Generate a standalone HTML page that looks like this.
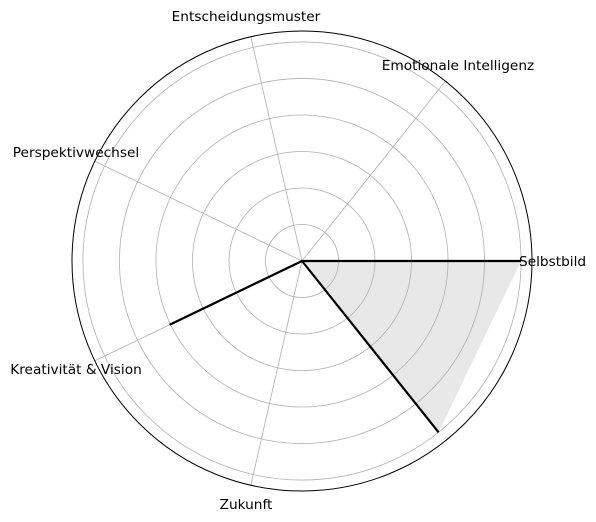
<!DOCTYPE html>
<html><head><meta charset="utf-8"><style>
body{margin:0;background:#fff}
svg{display:block;font-family:"DejaVu Sans","Liberation Sans",sans-serif}
</style></head><body>
<svg id="chart" width="596" height="522" viewBox="0 0 596 522"></svg>
<script>
const categories = ["Selbstbild","Emotionale Intelligenz","Entscheidungsmuster","Perspektivwechsel","Kreativität & Vision","Zukunft"];
const values = [6,0,0,0,4,0];
const ringTicks = [1,2,3,4,5,6];
const rMaxVal = 6.3;

const cx=302, cy=261, R=230, N=7;
const svg=document.getElementById('chart');
const NS='http://www.w3.org/2000/svg';
function rs(v){return v/rMaxVal*R;}
function ang(i){return i*2*Math.PI/N;}
function pt(i,v){const a=ang(i);return [cx+rs(v)*Math.cos(a), cy-rs(v)*Math.sin(a)];}
function mk(tag,attrs){const e=document.createElementNS(NS,tag);for(const k in attrs)e.setAttribute(k,attrs[k]);svg.appendChild(e);return e;}

const closed=values.concat([values[0]]);
const pts=closed.map((v,i)=>pt(i,v));
const poly=mk('polygon',{points:pts.map(p=>p.join(',')).join(' '),fill:'#e8e8e8',stroke:'none'});



ringTicks.forEach(t=>{
  const c=mk('circle',{cx:cx,cy:cy,r:rs(t),fill:'none',stroke:'#b0b0b0','stroke-width':0.8});
  
  
});
categories.forEach((c,i)=>{
  const p=pt(i,rMaxVal);
  const l=mk('line',{x1:cx,y1:cy,x2:p[0],y2:p[1],stroke:'#b0b0b0','stroke-width':0.8});
  
  
});
const line=mk('polyline',{points:pts.map(p=>p.join(',')).join(' '),fill:'none',stroke:'#000','stroke-width':2.2,'stroke-linejoin':'round'});


const outer=mk('circle',{cx:cx,cy:cy,r:R,fill:'none',stroke:'#000','stroke-width':1});



const labelPos=[[519,266,'start'],[458,70,'middle'],[246,21,'middle'],[76,157,'middle'],[76,374,'middle'],[246,509,'middle']];
categories.forEach((c,i)=>{
  const lp=labelPos[i];
  const t=mk('text',{x:lp[0],y:lp[1],'text-anchor':lp[2],'font-size':'13.7',fill:'#000'});
  t.textContent=c;
  
  
});
</script>
</body></html>
